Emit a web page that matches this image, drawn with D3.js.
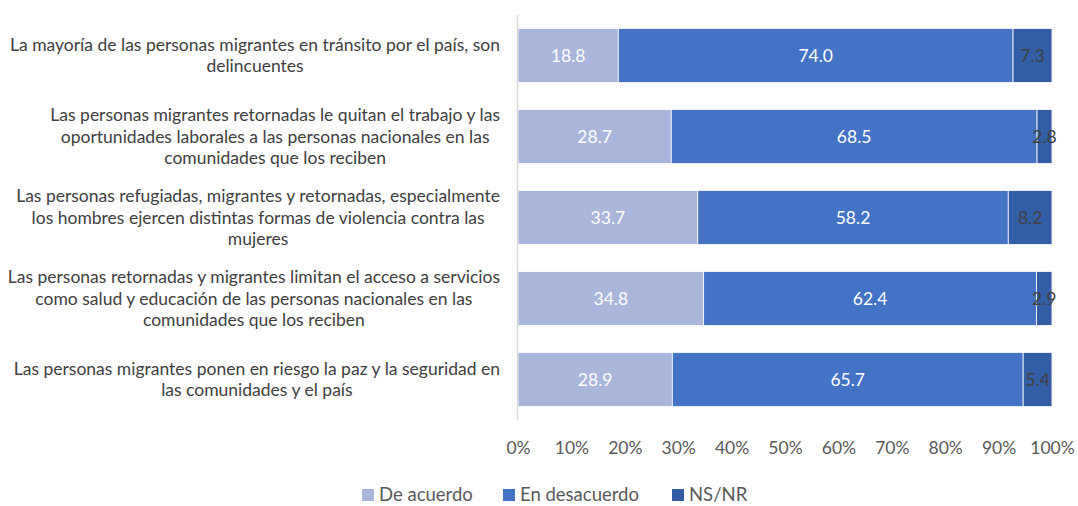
<!DOCTYPE html>
<html>
<head>
<meta charset="utf-8">
<script src="https://cdn.jsdelivr.net/npm/d3@7"></script>
<style>
  body { margin: 0; background: #fff; }
  text { font-family: Lato, "Open Sans", sans-serif; }
</style>
</head>
<body>
<div id="chart"></div>
<script>
var svgWidth = 1078;
var svgHeight = 506;

// data
var categories = [
  ["La mayoría de las personas migrantes en tránsito por el país, son", "delincuentes"],
  ["Las personas migrantes retornadas le quitan el trabajo y las", "oportunidades laborales a las personas nacionales en las", "comunidades que los reciben"],
  ["Las personas refugiadas, migrantes y retornadas, especialmente", "los hombres ejercen distintas formas de violencia contra las", "mujeres"],
  ["Las personas retornadas y migrantes limitan el acceso a servicios", "como salud y educación de las personas nacionales en las", "comunidades que los reciben"],
  ["Las personas migrantes ponen en riesgo la paz y la seguridad en", "las comunidades y el país"]
];
var seriesNames = ["De acuerdo", "En desacuerdo", "NS/NR"];
var deAcuerdo = [18.8, 28.7, 33.7, 34.8, 28.9];
var enDesacuerdo = [74.0, 68.5, 58.2, 62.4, 65.7];
var nsnr = [7.3, 2.8, 8.2, 2.9, 5.4];
var tickValues = [0, 0.1, 0.2, 0.3, 0.4, 0.5, 0.6, 0.7, 0.8, 0.9, 1];

var colors = ["#A9B5DB", "#4472C4", "#335EA6"];
var labelColors = ["#ffffff", "#ffffff", "#404040"];

var margin = { top: 15, right: 26, bottom: 86, left: 518 };
var width = svgWidth - margin.left - margin.right;
var height = svgHeight - margin.top - margin.bottom;

var svg = d3.select("#chart")
  .append("svg")
  .attr("width", svgWidth)
  .attr("height", svgHeight);

var chartGroup = svg.append("g")
  .attr("transform", `translate(${margin.left}, ${margin.top})`);

// build rows
var rows = categories.map(function(c, i) {
  return { idx: i, vals: [deAcuerdo[i], enDesacuerdo[i], nsnr[i]] };
});

var xScale = d3.scaleLinear().domain([0, 1]).range([0, width]);
var yScale = d3.scaleBand()
  .domain(d3.range(categories.length))
  .range([0, height])
  .paddingInner(0.333)
  .paddingOuter(0.1665);

// segments, 100% stacked
var segments = [];
rows.forEach(function(r) {
  var total = d3.sum(r.vals);
  var acc = 0;
  r.vals.forEach(function(v, s) {
    segments.push({ row: r.idx, s: s, v: v, x0: acc / total, x1: (acc + v) / total });
    acc += v;
  });
});

chartGroup.selectAll("rect.seg")
  .data(segments)
  .enter()
  .append("rect")
  .attr("class", "seg")
  .attr("x", d => xScale(d.x0))
  .attr("y", d => yScale(d.row))
  .attr("width", d => xScale(d.x1) - xScale(d.x0))
  .attr("height", yScale.bandwidth())
  .attr("fill", d => colors[d.s])
  .attr("stroke", "#ffffff")
  .attr("stroke-width", 0.8);

chartGroup.selectAll("text.val")
  .data(segments)
  .enter()
  .append("text")
  .attr("class", "val")
  .attr("x", d => xScale((d.x0 + d.x1) / 2))
  .attr("y", d => yScale(d.row) + yScale.bandwidth() / 2)
  .attr("dy", "0.35em")
  .attr("text-anchor", "middle")
  .attr("font-size", "17.5px")
  .attr("fill", d => labelColors[d.s])
  .text(d => d.v.toFixed(1));

// vertical category axis line
chartGroup.append("line")
  .attr("x1", -0.5).attr("x2", -0.5)
  .attr("y1", 0).attr("y2", height)
  .attr("stroke", "#d9d9d9")
  .attr("stroke-width", 1.5);

// x axis ticks (labels only)
var bottomAxis = d3.axisBottom(xScale)
  .tickValues(tickValues)
  .tickFormat(d3.format(".0%"))
  .tickSize(0)
  .tickPadding(22);

var xAxis = chartGroup.append("g")
  .attr("transform", `translate(0, ${height})`)
  .call(bottomAxis);
xAxis.select(".domain").remove();
xAxis.selectAll("text")
  .attr("font-size", "17.5px")
  .attr("font-family", "Lato, 'Open Sans', sans-serif")
  .attr("fill", "#595959");

// category labels, lines centred as a block right-aligned to the axis
var lineH = 21.5;
var catGroup = svg.append("g");
rows.forEach(function(r) {
  var lines = categories[r.idx];
  var g = catGroup.append("g");
  var cy = margin.top + yScale(r.idx) + yScale.bandwidth() / 2;
  var texts = g.selectAll("text")
    .data(lines)
    .enter()
    .append("text")
    .attr("text-anchor", "middle")
    .attr("font-size", "17.5px")
    .attr("fill", "#404040")
    .attr("y", (d, i) => cy + (i - (lines.length - 1) / 2) * lineH)
    .attr("dy", "0.35em")
    .text(d => d);
  var maxW = 0;
  texts.each(function() { maxW = Math.max(maxW, this.getComputedTextLength()); });
  texts.attr("x", 500 - maxW / 2);
});

// legend
var legendX = [362, 503, 672];
var legend = svg.append("g").attr("transform", "translate(0, 495)");
var items = legend.selectAll("g")
  .data(seriesNames)
  .enter()
  .append("g")
  .attr("transform", (d, i) => `translate(${legendX[i]}, 0)`);
items.append("rect")
  .attr("x", 0).attr("y", -6)
  .attr("width", 12).attr("height", 12)
  .attr("fill", (d, i) => colors[i]);
items.append("text")
  .attr("x", 17)
  .attr("dy", "0.35em")
  .attr("font-size", "18.5px")
  .attr("fill", "#595959")
  .text(d => d);
</script>
</body>
</html>
